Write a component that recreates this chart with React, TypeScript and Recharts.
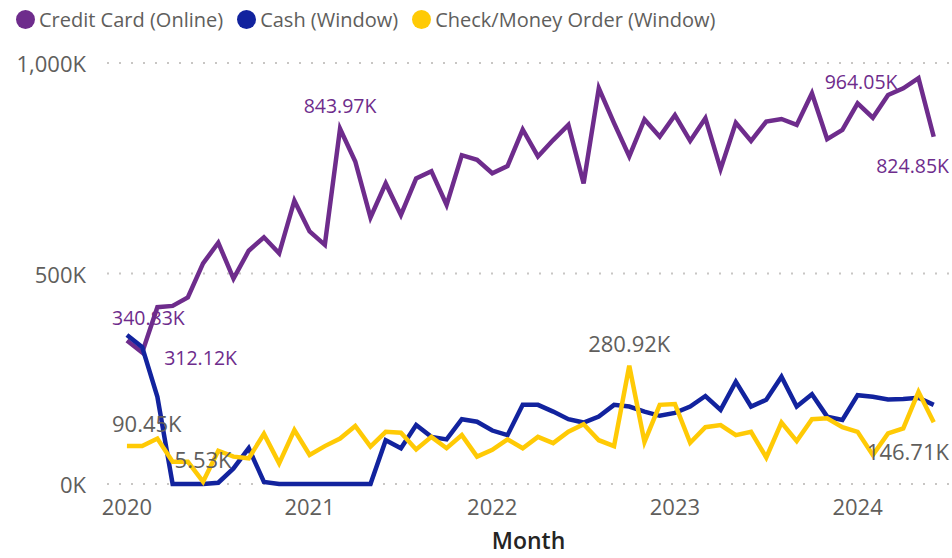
import React from 'react';
import { LineChart, Line, XAxis, YAxis, CartesianGrid, LabelList } from 'recharts';

// monthly totals in thousands, Jan 2020 .. Jun 2024
const creditCard = [
  340.83, 312.12, 420, 423, 443, 524, 573, 488, 554, 586, 548, 673,
  600, 568, 843.97, 766, 633, 714, 639, 726, 743, 663, 781, 770,
  738, 755, 842, 778, 817, 853, 714, 940, 857, 778, 866, 825,
  876, 815, 869, 748, 858, 815, 861, 867, 853, 928, 819, 841,
  904, 870, 924, 940, 964.05, 824.85
];
const cash = [
  354, 325, 207, 0, 0, 0, 3, 37, 85, 5, 0, 0,
  0, 0, 0, 0, 0, 104, 85, 140, 112, 106, 154, 148,
  127, 116, 188, 188, 172, 154, 146, 160, 188, 184, 172, 162,
  169, 184, 209, 176, 243, 184, 200, 255, 184, 213, 160, 152,
  211, 207, 201, 202, 205, 188
];
const checkMoneyOrder = [
  90.45, 90, 108, 53, 53, 5.53, 79, 65, 61, 119, 49, 128,
  69, 90, 108, 138, 89, 124, 122, 82, 112, 85, 116, 65,
  81, 106, 85, 112, 97, 124, 142, 104, 90, 280.92, 100, 188,
  190, 98, 135, 140, 116, 124, 63, 146, 102, 154, 156, 135,
  124, 69, 120, 132, 219, 146.71
];
const years = ['2020', '2021', '2022', '2023', '2024'];
const yTicks = [0, 500, 1000];

// which points carry a data label, and where it sits
const creditLabels: Record<number, string> = { 0: 'above', 1: 'right', 14: 'above', 52: 'left', 53: 'below' };
const checkLabels: Record<number, string> = { 0: 'above', 5: 'above', 33: 'above', 53: 'below' };

const data = creditCard.map((v, i) => ({
  t: i,
  credit: v,
  cash: cash[i],
  check: checkMoneyOrder[i],
}));

const FONT = '"Segoe UI", "Open Sans", sans-serif';
const PLOT_LEFT = 107;
const PLOT_RIGHT = 950;
const PLOT_BOTTOM = 484;
const PURPLE = '#6E2C8C';
const BLUE = '#12239E';
const YELLOW = '#FFCA05';
const GREY = '#605E5C';

const fmtK = (v: number) => `${v.toFixed(2)}K`;

const makeLabel = (positions: Record<number, string>, color: string, fontSize: number, values: number[]) =>
  (props: any) => {
    const value = props.value;
    let index = props.index;
    if (index === undefined) index = values.indexOf(value);
    const pos = positions[index];
    if (!pos) return null;
    const x = props.x ?? props.viewBox?.x;
    const y = props.y ?? props.viewBox?.y;
    const text = fmtK(value);
    const w = text.length * fontSize * 0.53;
    let anchor: 'start' | 'middle' | 'end' = 'middle';
    let tx = x;
    let ty = y;
    if (pos === 'above') ty = y - 23;
    if (pos === 'below') ty = y + 29;
    if (pos === 'right') { anchor = 'start'; tx = x + 22; ty = y + 5; }
    if (pos === 'left') { anchor = 'end'; tx = x - 21; ty = y + 3; }
    if (anchor === 'middle') {
      if (tx - w / 2 < PLOT_LEFT + 5) { anchor = 'start'; tx = PLOT_LEFT + 5; }
      else if (tx + w / 2 > PLOT_RIGHT - 1) { anchor = 'end'; tx = PLOT_RIGHT - 1; }
    }
    return (
      <text key={`lbl-${index}`} x={tx} y={ty} textAnchor={anchor} dominantBaseline="central"
        fill={color} fontSize={fontSize} fontFamily={FONT}>
        {text}
      </text>
    );
  };

const YTick = (props: any) => {
  const v = props.payload.value;
  const label = v === 0 ? '0K' : `${v.toLocaleString('en-US')}K`;
  return (
    <text x={PLOT_LEFT - 21} y={props.y} textAnchor="end" dominantBaseline="central"
      fill={GREY} fontSize={22} fontFamily={FONT}>
      {label}
    </text>
  );
};

const XTick = (props: any) => (
  <text x={props.x} y={PLOT_BOTTOM + 31} textAnchor="middle" fill={GREY} fontSize={22} fontFamily={FONT}>
    {years[Math.round(props.payload.value / 12)]}
  </text>
);

const legendItems = [
  { name: 'Credit Card (Online)', color: PURPLE },
  { name: 'Cash (Window)', color: BLUE },
  { name: 'Check/Money Order (Window)', color: YELLOW },
];

export default function App() {
  return (
    <div style={{ position: 'relative', width: 952, height: 558, background: '#fff' }}>
      <style>{'body{margin:0}'}</style>
      <div style={{ position: 'absolute', top: 9, left: 16, display: 'flex', alignItems: 'center', fontFamily: FONT, fontSize: 20, color: GREY, lineHeight: '21px', zIndex: 1 }}>
        {legendItems.map((it) => (
          <div key={it.name} style={{ display: 'flex', alignItems: 'center', marginRight: 14 }}>
            <span style={{ width: 19, height: 19, borderRadius: '50%', background: it.color, display: 'inline-block', marginRight: 4 }} />
            <span>{it.name}</span>
          </div>
        ))}
      </div>
      <LineChart width={952} height={558} data={data} margin={{ top: 63, right: 952 - PLOT_RIGHT, bottom: 0, left: 0 }}>
        <CartesianGrid vertical={false} stroke="#C8C6C4" strokeWidth={2} strokeDasharray="2 10" />
        <XAxis dataKey="t" type="number" domain={[-1.31, 54.07]} ticks={[0, 12, 24, 36, 48]}
          tick={<XTick />} axisLine={false} tickLine={false} height={74} allowDataOverflow
          label={{ value: 'Month', position: 'insideBottom', offset: 9, fill: '#252423', fontSize: 23, fontWeight: 600, fontFamily: FONT }} />
        <YAxis type="number" domain={[0, 1000]} ticks={yTicks} tick={<YTick />}
          axisLine={false} tickLine={false} width={PLOT_LEFT} />
        <Line type="linear" dataKey="credit" stroke={PURPLE} strokeWidth={4.5} dot={false} isAnimationActive={false}>
          <LabelList dataKey="credit" content={makeLabel(creditLabels, PURPLE, 19.5, creditCard)} />
        </Line>
        <Line type="linear" dataKey="cash" stroke={BLUE} strokeWidth={4.5} dot={false} isAnimationActive={false} />
        <Line type="linear" dataKey="check" stroke={YELLOW} strokeWidth={4.5} dot={false} isAnimationActive={false}>
          <LabelList dataKey="check" content={makeLabel(checkLabels, GREY, 22, checkMoneyOrder)} />
        </Line>
      </LineChart>
    </div>
  );
}
